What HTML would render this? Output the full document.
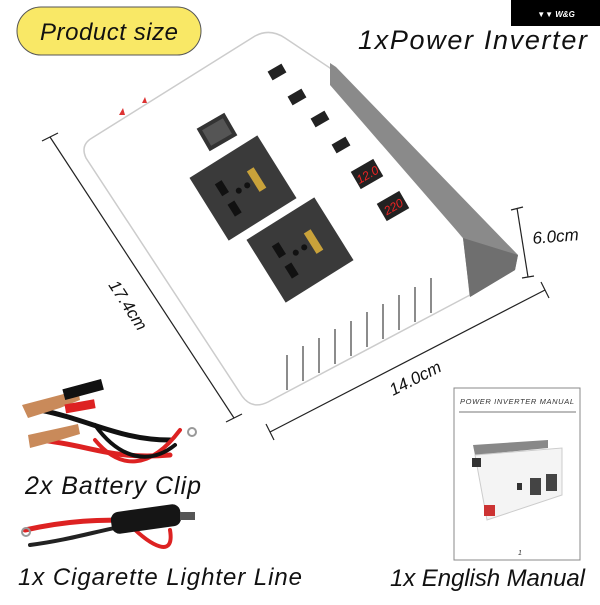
<!DOCTYPE html>
<html><head><style>
html,body{margin:0;padding:0;background:#fff;}
svg text{font-family:"Liberation Sans",sans-serif;font-style:italic;}
</style></head><body>
<svg width="600" height="600" viewBox="0 0 600 600" xmlns="http://www.w3.org/2000/svg">
<rect width="600" height="600" fill="#fff"/>
<rect x="511" y="0" width="89" height="26" fill="#000"/>
<text x="556" y="17" font-size="8" fill="#fff" text-anchor="middle" font-style="normal" font-weight="bold">▼▼ W&amp;G</text>
<rect x="17" y="7" width="184" height="48" rx="24" fill="#f9e866" stroke="#555" stroke-width="1"/>
<text x="40" y="40" font-size="24" fill="#111" textLength="138">Product size</text>
<text x="358" y="49" font-size="27" fill="#111" textLength="229">1xPower Inverter</text>
<path d="M92,138 L255,36 Q270,28 285,38 L330,68 L465,240 L470,295 L268,402 Q252,410 242,396 L86,158 Q80,145 92,138 Z" fill="#fff" stroke="#ccc" stroke-width="1.5"/>
<polygon points="330,63 336,67 518,255 515,270 470,297 463,238 330,85" fill="#8a8a8a"/>
<polygon points="463,238 518,255 515,270 470,297" fill="#6f6f6f"/>
<path d="M119,115 l4,-7 l2,7z M142,103 l3,-6 l2,6z" fill="#d33"/>
<g transform="translate(217,132) rotate(-30)"><rect x="-16" y="-13" width="32" height="26" fill="#333"/><rect x="-12" y="-9" width="24" height="18" fill="#555"/></g>
<g fill="#222">
<g transform="translate(277,72) rotate(-30)"><rect x="-8" y="-5" width="16" height="10"/></g>
<g transform="translate(297,97) rotate(-30)"><rect x="-8" y="-5" width="16" height="10"/></g>
<g transform="translate(320,119) rotate(-30)"><rect x="-8" y="-5" width="16" height="10"/></g>
<g transform="translate(341,145) rotate(-30)"><rect x="-8" y="-5" width="16" height="10"/></g>
</g>
<g transform="translate(367,174) rotate(-30)"><rect x="-13" y="-10" width="26" height="20" fill="#222"/><text x="0" y="5" font-size="12" fill="#e22" text-anchor="middle" font-style="normal">12.0</text></g>
<g transform="translate(393,206) rotate(-30)"><rect x="-13" y="-10" width="26" height="20" fill="#222"/><text x="0" y="5" font-size="12" fill="#e22" text-anchor="middle" font-style="normal">220</text></g>
<g transform="translate(243,188) rotate(-32)"><rect x="-40" y="-37" width="80" height="74" fill="#3a3a3a"/><rect x="-22" y="-18" width="8" height="14" fill="#111"/><rect x="-22" y="6" width="8" height="14" fill="#111"/><circle cx="-5" cy="0" r="3" fill="#111"/><circle cx="5" cy="0" r="3" fill="#111"/><rect x="12" y="-12" width="8" height="24" fill="#c9a23a"/></g>
<g transform="translate(300,250) rotate(-32)"><rect x="-40" y="-37" width="80" height="74" fill="#3a3a3a"/><rect x="-22" y="-18" width="8" height="14" fill="#111"/><rect x="-22" y="6" width="8" height="14" fill="#111"/><circle cx="-5" cy="0" r="3" fill="#111"/><circle cx="5" cy="0" r="3" fill="#111"/><rect x="12" y="-12" width="8" height="24" fill="#c9a23a"/></g>
<g stroke="#666" stroke-width="1.5">
<line x1="287" y1="355" x2="287" y2="390"/><line x1="303" y1="346" x2="303" y2="381"/><line x1="319" y1="338" x2="319" y2="373"/><line x1="335" y1="329" x2="335" y2="364"/><line x1="351" y1="321" x2="351" y2="356"/><line x1="367" y1="312" x2="367" y2="347"/><line x1="383" y1="304" x2="383" y2="339"/><line x1="399" y1="295" x2="399" y2="330"/><line x1="415" y1="287" x2="415" y2="322"/><line x1="431" y1="278" x2="431" y2="313"/>
</g>
<g stroke="#222" stroke-width="1.2" fill="none">
<line x1="50" y1="137" x2="234" y2="418"/><line x1="42" y1="141" x2="58" y2="133"/><line x1="226" y1="422" x2="242" y2="414"/>
<line x1="270" y1="432" x2="545" y2="290"/><line x1="266" y1="424" x2="274" y2="440"/><line x1="541" y1="282" x2="549" y2="298"/>
<line x1="517" y1="208" x2="528" y2="277"/><line x1="511" y1="210" x2="523" y2="207"/><line x1="522" y1="278" x2="534" y2="276"/>
</g>
<text x="0" y="0" font-size="17" fill="#111" transform="translate(108,285) rotate(57)">17.4cm</text>
<text x="0" y="0" font-size="17" fill="#111" transform="translate(393,396) rotate(-27)">14.0cm</text>
<text x="0" y="0" font-size="17" fill="#111" transform="translate(533,244) rotate(-5)">6.0cm</text>
<g fill="none" stroke-linecap="round">
<path d="M40,410 C90,420 120,440 170,440" stroke="#111" stroke-width="5"/>
<path d="M40,440 C90,445 110,460 170,455" stroke="#d22" stroke-width="5"/>
<path d="M95,440 C120,470 150,470 180,430" stroke="#d22" stroke-width="4"/>
<path d="M95,425 C120,460 150,465 175,445" stroke="#111" stroke-width="4"/>
</g>
<polygon points="22,405 60,395 78,390 80,400 60,408 28,418" fill="#c98a5a"/>
<polygon points="28,435 60,428 78,424 80,434 60,440 30,448" fill="#c98a5a"/>
<rect x="63" y="384" width="40" height="11" fill="#111" transform="rotate(-15 83 389)"/>
<rect x="65" y="402" width="30" height="9" fill="#d22" transform="rotate(-10 79 406)"/>
<circle cx="192" cy="432" r="4" fill="none" stroke="#999" stroke-width="2"/>
<text x="25" y="494" font-size="25" fill="#111" textLength="176">2x Battery Clip</text>
<g fill="none" stroke-linecap="round">
<path d="M25,530 C70,520 100,520 130,520" stroke="#d22" stroke-width="5"/>
<path d="M30,545 C70,540 100,530 130,525" stroke="#222" stroke-width="4"/>
<path d="M130,525 C150,545 175,560 170,530" stroke="#d22" stroke-width="4"/>
</g>
<rect x="111" y="508" width="70" height="22" rx="8" fill="#151515" transform="rotate(-8 146 519)"/>
<rect x="180" y="512" width="15" height="8" fill="#555"/>
<circle cx="26" cy="532" r="4" fill="none" stroke="#999" stroke-width="2"/>
<text x="18" y="585" font-size="24" fill="#111" textLength="284">1x Cigarette Lighter Line</text>
<rect x="454" y="388" width="126" height="172" fill="#fff" stroke="#888" stroke-width="1"/>
<text x="517" y="404" font-size="7.5" fill="#333" text-anchor="middle" font-style="normal" textLength="114">POWER INVERTER MANUAL</text>
<line x1="459" y1="412" x2="576" y2="412" stroke="#777"/>
<polygon points="473,445 548,440 548,448 475,455" fill="#888"/>
<polygon points="475,455 562,448 562,495 487,520" fill="#f4f4f4" stroke="#ccc"/>
<rect x="530" y="478" width="11" height="17" fill="#444"/><rect x="546" y="474" width="11" height="17" fill="#444"/>
<rect x="517" y="483" width="5" height="7" fill="#333"/>
<rect x="472" y="458" width="9" height="9" fill="#333"/>
<rect x="484" y="505" width="11" height="11" fill="#c33"/>
<text x="518" y="555" font-size="7" fill="#333" font-style="normal">1</text>
<text x="390" y="586" font-size="24" fill="#111" textLength="195">1x English Manual</text>
</svg>
</body></html>
